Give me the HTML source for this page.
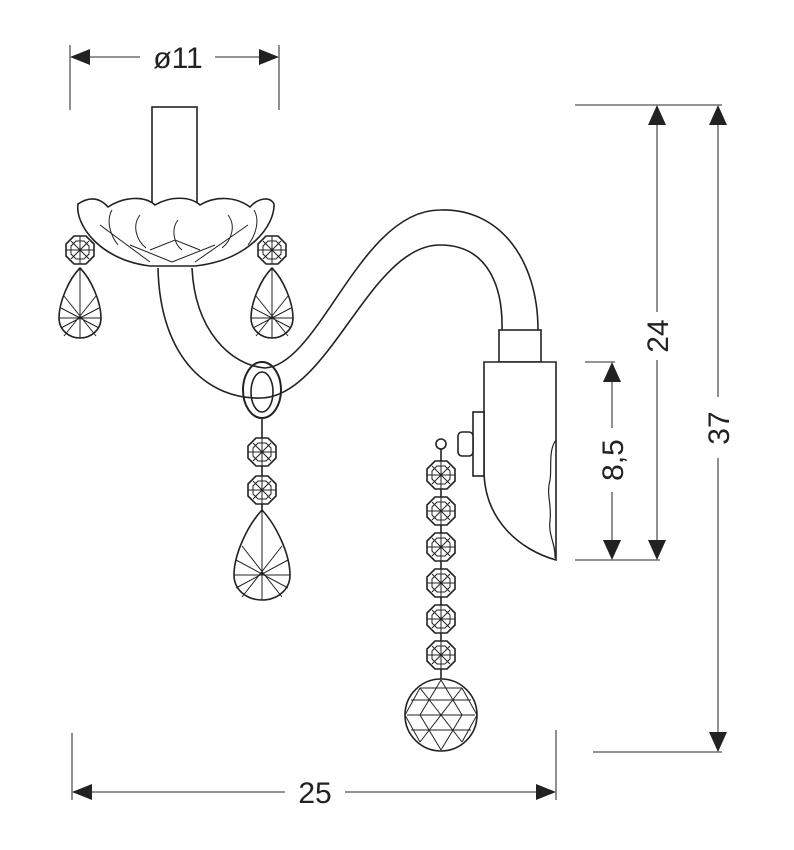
<!DOCTYPE html>
<html><head><style>
html,body{margin:0;padding:0;background:#fff;}
svg{display:block;}
text{font-family:"Liberation Sans",sans-serif;font-size:30px;fill:#222;}
</style></head><body>
<svg width="794" height="850" viewBox="0 0 794 850" xmlns="http://www.w3.org/2000/svg">
<defs>
<g id="oct">
<polygon points="-6,-14 6,-14 14,-6 14,6 6,14 -6,14 -14,6 -14,-6" fill="#fff" stroke="#222" stroke-width="1.6"/>
<polygon points="-4,-9 4,-9 9,-4 9,4 4,9 -4,9 -9,4 -9,-4" fill="none" stroke="#222" stroke-width="1"/>
<path d="M-14,0H14M0,-14V14M-9,-9L9,9M9,-9L-9,9" stroke="#222" stroke-width="1"/>
</g>
<g id="drop">
<path d="M0,0 C-12,12 -21,35 -21,50 C-21,62 -11,70 0,70 C11,70 21,62 21,50 C21,35 12,12 0,0Z" fill="#fff" stroke="#222" stroke-width="1.6"/>
<path d="M0,0V70M-21,50H21M-16,28L16,68M16,28L-16,68M-19,40L19,60M19,40L-19,60" stroke="#222" stroke-width="1"/>
</g>
<g id="bigdrop">
<path d="M0,0 C-15,16 -28,45 -28,65 C-28,80 -15,90 0,90 C15,90 28,80 28,65 C28,45 15,16 0,0Z" fill="#fff" stroke="#222" stroke-width="1.6"/>
<path d="M0,0V90M-28,65H28M-20,36L20,87M20,36L-20,87M-26,50L26,78M26,50L-26,78" stroke="#222" stroke-width="1"/>
</g>
</defs>

<!-- dimensions -->
<g stroke="#555" stroke-width="1.3" fill="none">
<line x1="70" y1="45" x2="70" y2="110"/><line x1="279" y1="45" x2="279" y2="110"/>
<line x1="88" y1="57" x2="140" y2="57"/><line x1="215" y1="57" x2="261" y2="57"/>
<line x1="575" y1="105" x2="722" y2="105"/>
<line x1="575" y1="560" x2="660" y2="560"/>
<line x1="585" y1="362" x2="615" y2="362"/>
<line x1="593" y1="752" x2="722" y2="752"/>
<line x1="657" y1="120" x2="657" y2="312"/><line x1="657" y1="360" x2="657" y2="545"/>
<line x1="718" y1="120" x2="718" y2="397"/><line x1="718" y1="458" x2="718" y2="737"/>
<line x1="612" y1="378" x2="612" y2="428"/><line x1="612" y1="492" x2="612" y2="545"/>
<line x1="72" y1="733" x2="72" y2="800"/><line x1="556" y1="730" x2="556" y2="800"/>
<line x1="90" y1="792" x2="285" y2="792"/><line x1="345" y1="792" x2="538" y2="792"/>
</g>
<g fill="#222">
<polygon points="70,57 90,49 90,65"/><polygon points="279,57 259,49 259,65"/>
<polygon points="657,105 648,125 666,125"/><polygon points="657,560 648,540 666,540"/>
<polygon points="718,105 709,125 727,125"/><polygon points="718,752 709,732 727,732"/>
<polygon points="612,362 603,382 621,382"/><polygon points="612,560 603,540 621,540"/>
<polygon points="72,792 92,784 92,800"/><polygon points="556,792 536,784 536,800"/>
</g>
<text x="178" y="68" text-anchor="middle">ø11</text>
<text x="315" y="803" text-anchor="middle">25</text>
<text transform="translate(668,336) rotate(-90)" text-anchor="middle">24</text>
<text transform="translate(729,428) rotate(-90)" text-anchor="middle">37</text>
<text transform="translate(623,460) rotate(-90)" text-anchor="middle">8,5</text>

<!-- lamp -->
<g stroke="#222" stroke-width="1.6" fill="#fff">
<rect x="152" y="107" width="45" height="100"/>
<path d="M192,268 C195,330 230,365 265,368 C320,365 360,210 440,210 C500,208 538,260 538,330" fill="none"/>
<path d="M158,268 C160,360 210,400 262,398 C330,395 370,245 440,245 C490,245 503,290 502,330" fill="none"/>
<path d="M78,204 C90,196 100,198 108,207 C125,196 145,196 155,205 C170,196 190,196 200,205 C215,196 235,196 250,207 C258,198 270,196 274,204 C275,225 250,260 195,266 L150,266 C100,260 75,225 78,204Z"/>
<path d="M112,210 C106,220 110,235 118,245M140,215 C132,225 136,240 146,248M178,220 C170,230 175,245 182,250M228,215 C236,225 232,240 222,248M254,210 C260,220 256,235 248,245M150,250 L175,240 L200,250 M130,245 L172,262 M215,245 L172,262 M100,225 L150,262 M248,225 L195,262" fill="none" stroke-width="1"/>
<ellipse cx="262" cy="390" rx="19" ry="28" fill="none" stroke-width="2"/>
<ellipse cx="262" cy="392" rx="11" ry="20" fill="none"/>
<rect x="499" y="330" width="42" height="32"/>
<path d="M484,362 H556 V560 C520,550 484,520 484,470 Z"/>
<path d="M556,440 C548,450 552,470 550,480 C546,495 552,505 550,520 C548,535 556,545 555,558" fill="none" stroke-width="1.2"/>
<rect x="473" y="412" width="11" height="64"/>
<rect x="458" y="432" width="15" height="24" rx="4"/>
<circle cx="441" cy="444" r="5"/>
</g>
<line x1="262" y1="418" x2="262" y2="515" stroke="#222" stroke-width="1.6"/>
<use href="#oct" x="262" y="452"/><use href="#oct" x="262" y="490"/>
<use href="#bigdrop" x="262" y="510"/>
<use href="#oct" x="80" y="250"/><use href="#oct" x="272" y="250"/>
<use href="#drop" x="80" y="268"/><use href="#drop" x="272" y="268"/>
<line x1="441" y1="449" x2="441" y2="690" stroke="#222" stroke-width="1.6"/>
<use href="#oct" x="441" y="475"/><use href="#oct" x="441" y="511"/><use href="#oct" x="441" y="547"/>
<use href="#oct" x="441" y="583"/><use href="#oct" x="441" y="619"/><use href="#oct" x="441" y="655"/>
<circle cx="441" cy="715" r="36" fill="#fff" stroke="#222" stroke-width="1.6"/>
<g stroke="#222" stroke-width="1" fill="none">
<path d="M411,700H471M407,715H475M411,730H471M420,688H462"/>
<path d="M420,688L405,715L420,742M462,688L477,715L462,742M420,688L441,715L420,742M462,688L441,715L462,742M441,680L420,715L441,750M441,680L462,715L441,750"/>
</g>
</svg>
</body></html>
